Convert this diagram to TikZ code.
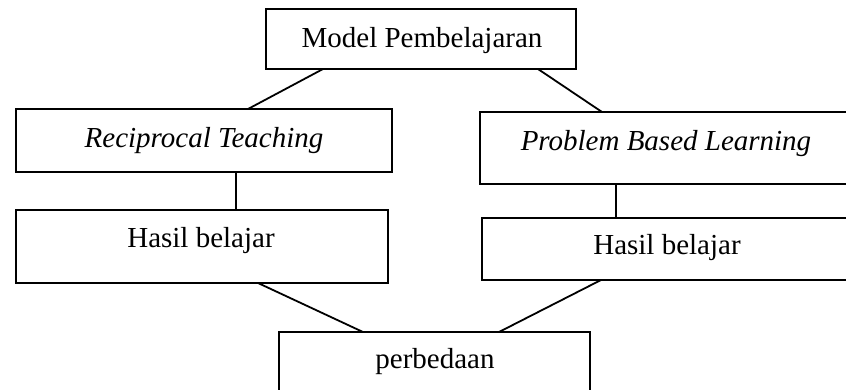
\documentclass[tikz,border=0pt]{standalone}
\usepackage{fontspec}
\setmainfont{Liberation Serif}
\tikzset{
  box/.style={draw=black, line width=1.8pt, inner sep=0pt, outer sep=0pt, anchor=north west},
  txt/.style={anchor=base, inner sep=0pt, font=\fontsize{29}{34}\selectfont},
  link/.style={draw=black, line width=1.8pt}
}
\begin{document}
\begin{tikzpicture}[x=1pt, y=-1pt]
\useasboundingbox (0,0) rectangle (846,389);
\clip (0,0) rectangle (846,389);
\node[box, minimum width=310pt, minimum height=60pt] (top) at (266,9) {};
\node[box, minimum width=376pt, minimum height=63pt] (l1) at (16,109) {};
\node[box, minimum width=380pt, minimum height=72pt] (r1) at (480,112) {};
\node[box, minimum width=372pt, minimum height=73pt] (l2) at (16,210) {};
\node[box, minimum width=378pt, minimum height=62pt] (r2) at (482,218) {};
\node[box, minimum width=311pt, minimum height=80pt] (b) at (279,332) {};
\node[txt] (ttop) at (422,47) {Model Pembelajaran};
\node[txt] (tl1) at (204,147) {\itshape Reciprocal Teaching};
\node[txt] (tr1) at (666,150) {\itshape Problem Based Learning};
\node[txt] (tl2) at (201,247) {Hasil belajar};
\node[txt] (tr2) at (667,254) {Hasil belajar};
\node[txt] (tb) at (435,368) {perbedaan};
\draw[link] ([xshift=57pt]top.south west) -- ([xshift=232pt]l1.north west);
\draw[link] ([xshift=272pt]top.south west) -- ([xshift=122pt]r1.north west);
\draw[link] ([xshift=220pt]l1.south west) -- ([xshift=220pt]l2.north west);
\draw[link] ([xshift=136pt]r1.south west) -- ([xshift=134pt]r2.north west);
\draw[link] ([xshift=242pt]l2.south west) -- ([xshift=84pt]b.north west);
\draw[link] ([xshift=119pt]r2.south west) -- ([xshift=220pt]b.north west);
\end{tikzpicture}
\end{document}
